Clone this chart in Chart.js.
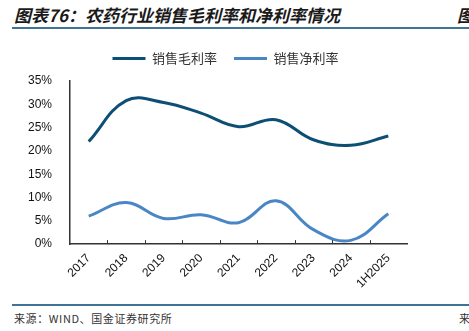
<!DOCTYPE html>
<html>
<head>
<meta charset="utf-8">
<script src="https://cdn.jsdelivr.net/npm/chart.js@4.4.1/dist/chart.umd.min.js"></script>
<style>
  body { margin: 0; width: 469px; height: 331px; background: #fff; position: relative; overflow: hidden; font-family: "Noto Sans CJK SC", sans-serif; }
  .title { position: absolute; left: 14px; top: 2px; font-size: 17px; font-weight: bold; font-style: italic; color: #1a1a1a; white-space: nowrap; }
  .title-r { position: absolute; left: 457px; top: 2px; font-size: 17px; font-weight: bold; font-style: italic; color: #1a1a1a; }
  .rule { position: absolute; left: 12px; right: 0; height: 2px; background: #3f7393; }
  .src { position: absolute; left: 14px; top: 310px; font-size: 11px; color: #333; white-space: nowrap; letter-spacing: 0.6px; }
  .src-r { position: absolute; left: 459px; top: 310px; font-size: 11px; color: #333; }
  #wrap { position: absolute; left: 0; top: 41px; width: 469px; height: 257px; }
</style>
</head>
<body>
<div class="title">图表76：农药行业销售毛利率和净利率情况</div>
<div class="title-r">图</div>
<div class="rule" style="top:27px"></div>
<div id="wrap"><canvas id="grafik"></canvas></div>
<div class="rule" style="top:304px"></div>
<div class="src">来源：WIND、国金证券研究所</div>
<div class="src-r">来</div>
<script>
// === DATA ===
const kategori = ["2017", "2018", "2019", "2020", "2021", "2022", "2023", "2024", "1H2025"];
const labaKotor = [22.0, 30.8, 30.4, 28.1, 25.2, 26.7, 22.4, 21.2, 23.2];   // 销售毛利率
const labaBersih = [6.0, 8.9, 5.5, 6.3, 4.6, 9.3, 3.1, 0.8, 6.5];          // 销售净利率
const yTicks = [0, 5, 10, 15, 20, 25, 30, 35];

// tick kecil di batas kategori (mengarah ke atas)
const tickDalam = {
  id: "tickDalam",
  afterDraw(chart) {
    const x = chart.scales.x, ctx = chart.ctx;
    const y = chart.chartArea.bottom;
    ctx.save();
    ctx.strokeStyle = "#333";
    ctx.lineWidth = 1;
    for (let i = 0; i < kategori.length - 1; i++) {
      const px = Math.round((x.getPixelForValue(i) + x.getPixelForValue(i + 1)) / 2) + 0.5;
      ctx.beginPath();
      ctx.moveTo(px, y);
      ctx.lineTo(px, y - 4);
      ctx.stroke();
    }
    ctx.restore();
  }
};

// geser posisi legend tanpa mengubah area grafik
const geserLegend = {
  id: "geserLegend",
  afterUpdate(chart) {
    const lg = chart.legend;
    if (!lg) return;
    lg.left += 17; lg.right += 17;
    lg.top -= 6; lg.bottom -= 6;
  }
};

new Chart(document.getElementById("grafik"), {
  type: "line",
  data: {
    labels: kategori,
    datasets: [
      { label: "销售毛利率", data: labaKotor, borderColor: "#0d4f74", backgroundColor: "#0d4f74", borderWidth: 3, pointRadius: 0, tension: 0.4 },
      { label: "销售净利率", data: labaBersih, borderColor: "#4a86c6", backgroundColor: "#4a86c6", borderWidth: 3, pointRadius: 0, tension: 0.4 }
    ]
  },
  options: {
    responsive: true,
    maintainAspectRatio: false,
    animation: false,
    layout: { padding: { left: 10, right: 62, top: 0, bottom: 0 } },
    plugins: {
      tooltip: { enabled: false },
      legend: {
        position: "top",
        labels: {
          boxWidth: 33,
          boxHeight: 3,
          padding: 17,
          color: "#333",
          font: { family: "Noto Sans CJK SC", size: 13 },
          generateLabels(chart) {
            return chart.data.datasets.map((ds, i) => ({
              text: ds.label, fillStyle: ds.borderColor, strokeStyle: ds.borderColor,
              lineWidth: 0, datasetIndex: i, fontColor: "#333"
            }));
          }
        }
      }
    },
    scales: {
      x: {
        offset: true,
        grid: { display: false, drawTicks: false },
        border: { display: true, color: "#333", width: 1.5 },
        ticks: { maxRotation: 45, minRotation: 45, color: "#111", font: { family: "Liberation Sans", size: 12 }, padding: 7 }
      },
      y: {
        min: 0, max: 35,
        afterBuildTicks(scale) { scale.ticks = yTicks.map(v => ({ value: v })); },
        afterFit(scale) { scale.width = 60; },
        grid: { display: false },
        border: { display: true, color: "#333", width: 1.5 },
        ticks: { color: "#111", font: { family: "Liberation Sans", size: 12 }, padding: 10, callback: v => v + "%" }
      }
    }
  },
  plugins: [tickDalam, geserLegend]
});
</script>
</body>
</html>
